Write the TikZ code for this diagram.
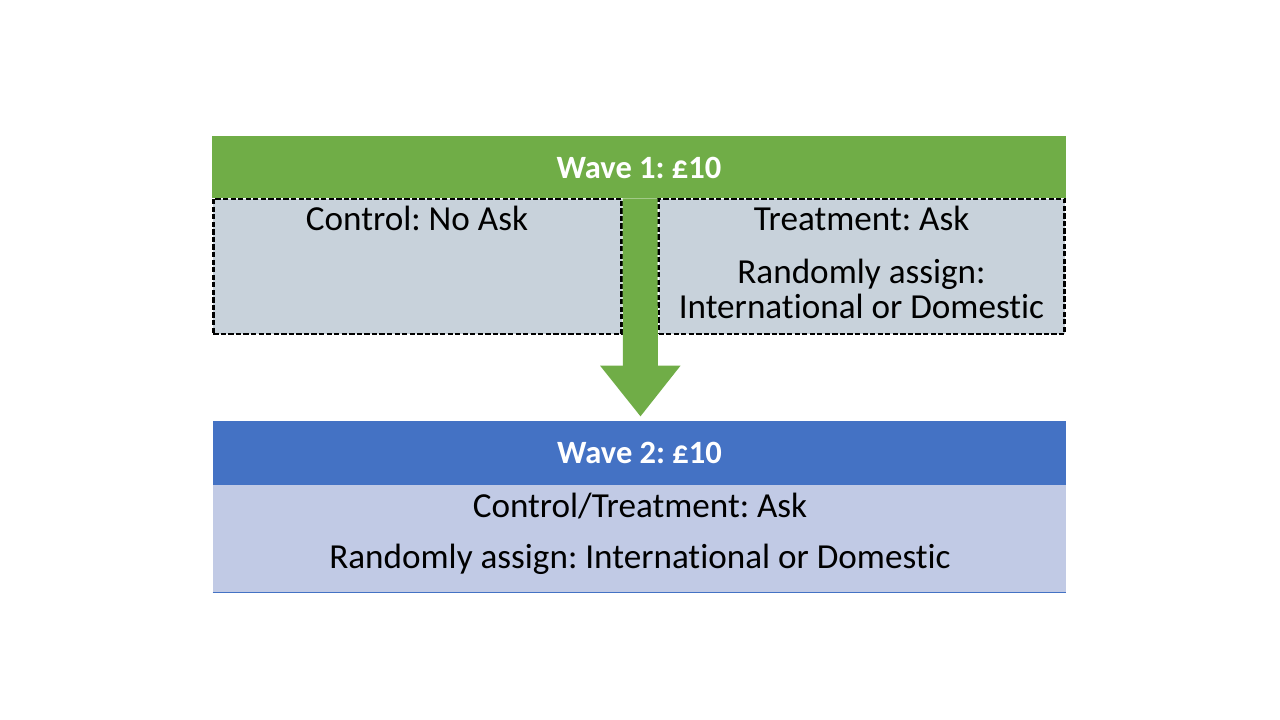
\documentclass[tikz,border=0pt]{standalone}
\usepackage{fontspec}
\setmainfont{Carlito}[Ligatures=NoCommon]
\usepackage{xcolor}
\usepackage{tikz}
\usetikzlibrary{positioning, arrows.meta, calc}

\definecolor{wavegreen}{HTML}{70AD47}
\definecolor{waveblue}{HTML}{4472C4}
\definecolor{armgray}{HTML}{C8D2DB}
\definecolor{armblue}{HTML}{C1CAE5}

\tikzset{
  header/.style={rectangle, inner sep=0pt, minimum height=1.26cm},
  armbox/.style={rectangle, inner sep=0pt, fill=armgray, draw=black, line width=1.5pt,
    dash pattern=on 3pt off 1.3pt, minimum height=2.7cm},
  headtext/.style={text=white, font=\fontsize{18.5}{22}\selectfont\bfseries, anchor=base},
  armtext/.style={text=black, font=\fontsize{20}{24}\selectfont, anchor=base}
}

\begin{document}
\frenchspacing
\begin{tikzpicture}[x=0.2mm, y=-0.2mm]
    \useasboundingbox (0,0) rectangle (1280,720);
    % Wave 1 and its two arms
    \node[header, fill=wavegreen, minimum width=17.08cm, minimum height=1.24cm] (wave1) at (639,167) {};
    \node[armbox, minimum width=8.17cm] (ctrl) at (417.5,266.5) {};
    \node[armbox, minimum width=8.12cm] (treat) at (861.5,266.5) {};
    \node[headtext] (wave1txt) at (639,179) {Wave 1: £10};
    \node[armtext] (ctrltxt) at (417,231) {Control: No Ask};
    \node[armtext] (treattxt) at (861.5,231) {Treatment: Ask};
    \node[armtext] (treatrand) at (861.5,284) {Randomly assign:};
    \node[armtext] (treatdom) at (861.5,319) {International or Domestic};

    % Wave 2
    \node[header, fill=waveblue, minimum width=17.06cm, minimum height=1.28cm] (wave2) at (639.5,453) {};
    \node[rectangle, inner sep=0pt, fill=armblue, minimum width=17.06cm, minimum height=2.14cm] (both) at (639.5,538.5) {};
    \draw[waveblue, line width=0.6pt] (both.south west) -- (both.south east);
    \node[headtext] (wave2txt) at (639.5,463) {Wave 2: £10};
    \node[armtext] (bothtxt) at (640,517) {Control/Treatment: Ask};
    \node[armtext] (bothrand) at (640,568) {Randomly assign: International or Domestic};

    % the big arrow between waves
    \draw[wavegreen, line width=0.7cm, -{Triangle[width=1.54cm, length=1.02cm]}, shorten >=0.08cm]
      ([xshift=0.02cm]wave1.south) -- ([xshift=0.02cm]wave2.north);
\end{tikzpicture}
\end{document}
